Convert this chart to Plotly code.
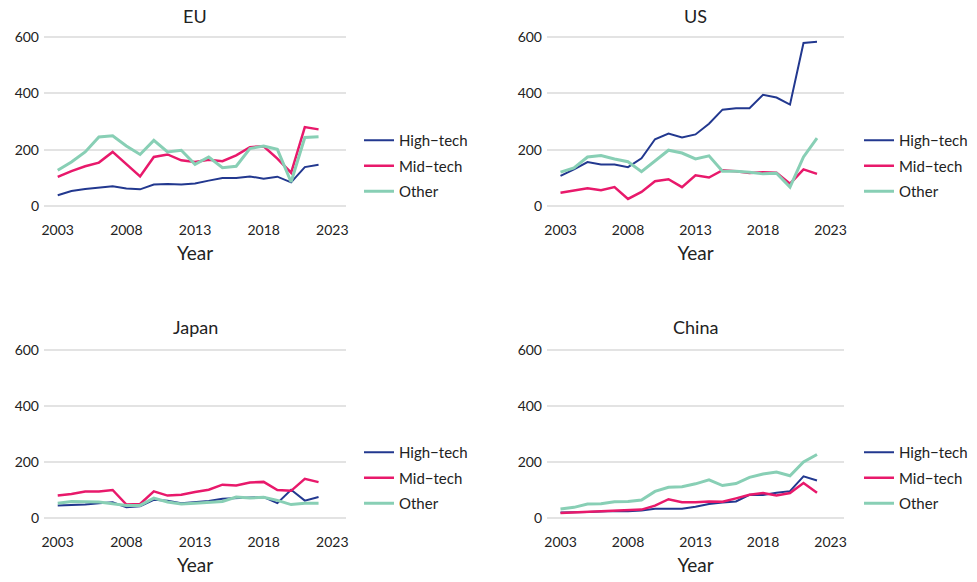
import plotly.graph_objects as go
from plotly.subplots import make_subplots

years = list(range(2003, 2023))
regions = ["EU", "US", "Japan", "China"]
series_names = ["High\u2212tech", "Mid\u2212tech", "Other"]

eu_high = [38, 53, 60, 66, 70, 62, 59, 76, 78, 76, 80, 90, 99, 99, 105, 97, 104, 84, 138, 146]
eu_mid = [103, 124, 141, 154, 192, 150, 105, 174, 183, 162, 156, 164, 159, 180, 209, 212, 168, 118, 280, 272]
eu_other = [127, 156, 192, 245, 249, 213, 183, 233, 192, 198, 148, 174, 136, 141, 204, 213, 201, 85, 243, 246]

us_high = [107, 130, 156, 147, 147, 138, 169, 237, 257, 243, 254, 292, 342, 347, 347, 395, 385, 360, 579, 583]
us_mid = [47, 54, 63, 56, 67, 25, 50, 88, 95, 67, 109, 101, 127, 123, 117, 120, 118, 79, 130, 114]
us_other = [120, 135, 174, 179, 167, 157, 122, 159, 198, 188, 167, 178, 123, 123, 120, 114, 116, 67, 174, 241]

jp_high = [45, 46, 48, 53, 56, 38, 42, 65, 62, 53, 58, 61, 69, 71, 71, 75, 53, 101, 62, 75]
jp_mid = [80, 86, 95, 95, 100, 48, 50, 95, 80, 83, 93, 101, 119, 116, 127, 129, 100, 97, 140, 128]
jp_other = [53, 59, 58, 57, 51, 45, 45, 71, 57, 50, 53, 55, 59, 75, 71, 74, 63, 48, 53, 53]

cn_high = [20, 20, 21, 23, 25, 24, 27, 33, 33, 33, 40, 50, 55, 59, 83, 82, 90, 96, 149, 134]
cn_mid = [18, 20, 21, 23, 26, 27, 30, 44, 67, 56, 56, 59, 58, 70, 83, 89, 80, 89, 125, 90]
cn_other = [32, 38, 50, 51, 58, 59, 64, 95, 110, 112, 122, 136, 116, 123, 145, 157, 164, 151, 200, 227]

data = {
    "EU": [eu_high, eu_mid, eu_other],
    "US": [us_high, us_mid, us_other],
    "Japan": [jp_high, jp_mid, jp_other],
    "China": [cn_high, cn_mid, cn_other],
}

x_ticks = [2003, 2008, 2013, 2018, 2023]
y_ticks = [0, 200, 400, 600]

colors = ["#22388f", "#e8196b", "#88cfb5"]
widths = [2, 2.5, 3]

W, H = 977, 582
FONT = "Lato, 'Open Sans', sans-serif"

fig = make_subplots(rows=2, cols=2)

# pixel geometry
x_dom_px = [(44, 346), (547, 844)]
y_dom_px = [(31.4, 211.6), (344.4, 523.6)]
legend_x_px = [359, 859]
legend_y_px = [166, 478]

for i, reg in enumerate(regions):
    r, c = i // 2, i % 2
    lname = "legend" if i == 0 else f"legend{i+1}"
    for s, vals in enumerate(data[reg]):
        fig.add_trace(
            go.Scatter(
                x=years, y=vals, mode="lines", name=series_names[s],
                line=dict(color=colors[s], width=widths[s]),
                legend=lname, legendgroup=f"{reg}{s}",
            ),
            row=r + 1, col=c + 1,
        )
    ax = "" if i == 0 else str(i + 1)
    x0, x1 = x_dom_px[c]
    y0, y1 = y_dom_px[r]
    fig.layout[f"xaxis{ax}"].update(
        domain=[x0 / W, x1 / W], range=[2002, 2024],
        tickvals=x_ticks, ticktext=[str(t) for t in x_ticks],
        showgrid=False, zeroline=False, showline=False, ticks="",
        tickfont=dict(size=14, color="#222"), ticklabelstandoff=8,
        title=dict(text="Year", font=dict(size=19, color="#222"), standoff=10),
        automargin=False,
    )
    fig.layout[f"yaxis{ax}"].update(
        domain=[(H - y1) / H, (H - y0) / H], range=[-20, 620],
        tickvals=y_ticks, showgrid=True, gridcolor="#e3e3e3", gridwidth=2,
        zeroline=False, showline=False, ticks="",
        tickfont=dict(size=14, color="#222"), ticklabelstandoff=4,
        automargin=False,
    )
    fig.add_annotation(
        text=reg, xref="paper", yref="paper",
        x=((x0 + x1) / 2) / W, y=(H - (16 if r == 0 else 327)) / H,
        xanchor="center", yanchor="middle", showarrow=False,
        font=dict(size=18, color="#222", family=FONT),
    )
    fig.layout[lname] = dict(
        x=legend_x_px[c] / W, y=(H - legend_y_px[r]) / H,
        xanchor="left", yanchor="middle",
        font=dict(size=15, color="#222", family=FONT),
        tracegroupgap=3, bgcolor="rgba(0,0,0,0)",
    )

fig.update_layout(
    width=W, height=H,
    margin=dict(l=0, r=0, t=0, b=0, autoexpand=False),
    plot_bgcolor="white", paper_bgcolor="white",
    font=dict(family=FONT, color="#222"),
    showlegend=True,
)

fig.write_html(
    "out.html",
    config={"displayModeBar": False},
    post_script="document.body.style.margin='0';document.body.style.overflow='hidden';",
)
